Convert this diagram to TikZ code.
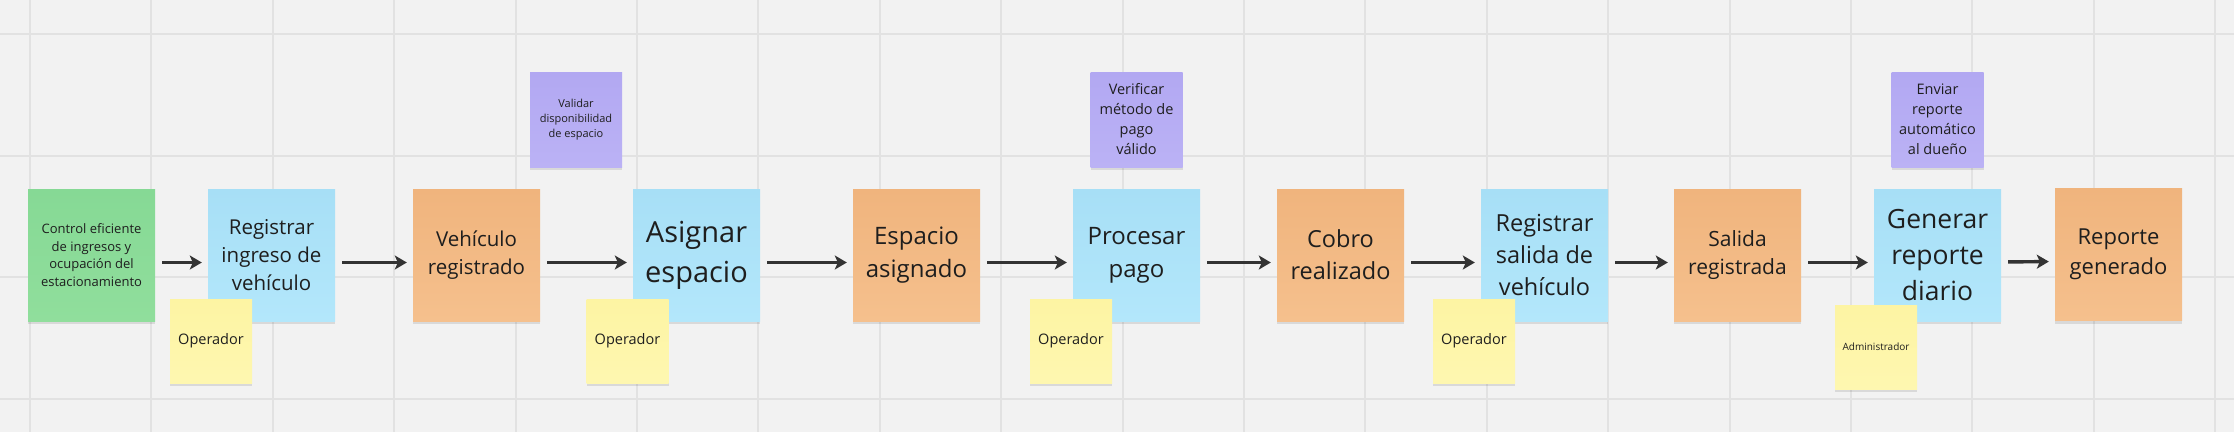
\documentclass[tikz,border=0pt]{standalone}
\usepackage{fontspec}
\setmainfont{Open Sans}
\usetikzlibrary{arrows.meta,positioning,shadows}
\definecolor{board}{HTML}{F2F2F2}
\definecolor{gridline}{HTML}{E2E2E2}
\definecolor{ink}{HTML}{1E1E1E}
\definecolor{arrowink}{HTML}{333333}
\definecolor{greenT}{HTML}{86D995}
\definecolor{greenB}{HTML}{90DE9C}
\definecolor{blueT}{HTML}{A7DFF6}
\definecolor{blueB}{HTML}{B3E7FB}
\definecolor{orangeT}{HTML}{F0B47D}
\definecolor{orangeB}{HTML}{F5C08D}
\definecolor{purpleT}{HTML}{B2A8F2}
\definecolor{purpleB}{HTML}{BBB2F5}
\definecolor{yellowT}{HTML}{FDF4A3}
\definecolor{yellowB}{HTML}{FEF7B0}
\newcommand\fs[2]{\fontsize{#1}{#2}\selectfont}

\begin{document}
\begin{tikzpicture}[x=1pt,y=-1pt,
    note/.style={inner sep=0pt, align=center, text=ink,
      drop shadow={shadow xshift=0pt, shadow yshift=-3pt, opacity=.10, fill=black}},
    goal/.style={note, minimum width=127pt, minimum height=132pt, top color=greenT, bottom color=greenB},
    task/.style={note, minimum width=127pt, minimum height=132pt, top color=blueT, bottom color=blueB},
    event/.style={note, minimum width=127pt, minimum height=132pt, top color=orangeT, bottom color=orangeB},
    rule/.style={note, minimum width=92pt, minimum height=95pt, top color=purpleT, bottom color=purpleB},
    actor/.style={note, minimum width=82pt, minimum height=84pt, top color=yellowT, bottom color=yellowB},
    flow/.style={draw=arrowink, line width=3.4pt, -{Stealth[length=12pt,width=14pt,inset=3pt]}, shorten <=7pt, shorten >=6pt}]

  % board
  \fill[board] (0,0) rectangle (2234,432);
  \useasboundingbox (0,0) rectangle (2234,432);
  \foreach \k in {0,...,18}
    \draw[gridline, line width=2pt] ({30+121.4*\k},0) -- ({30+121.4*\k},432);
  \foreach \yy in {34,155.5,277,398.5}
    \draw[gridline, line width=2pt] (0,\yy) -- (2234,\yy);

  % rules
  \draw node[rule, font=\fs{11}{15}] (r1) at (576,119.5) {Validar\\disponibilidad\\de espacio};
  \draw node[rule, font=\fs{14.5}{20}] (r2) at (1136.5,119.5) {Verificar\\método de\\pago\\válido};
  \draw node[rule, font=\fs{14.5}{20}] (r3) at (1937.5,119.5) {Enviar\\reporte\\automático\\al dueño};

  % process
  \draw node[goal, font=\fs{13}{17.5}] (g1) at (91.5,255) {Control eficiente\\de ingresos y\\ocupación del\\estacionamiento};
  \draw node[task, font=\fs{20.5}{28}] (t1) at (271.5,255) {Registrar\\ingreso de\\vehículo};
  \draw node[event, font=\fs{20.5}{28}] (e1) at (476.5,255) {Vehículo\\registrado};
  \draw node[task, font=\fs{29}{40}] (t2) at (696.5,255) {Asignar\\espacio};
  \draw node[event, font=\fs{24}{33}] (e2) at (916.5,255) {Espacio\\asignado};
  \draw node[task, font=\fs{24}{33}] (t3) at (1136.5,255) {Procesar\\pago};
  \draw node[event, font=\fs{23.5}{32}] (e3) at (1340.5,255) {Cobro\\realizado};
  \draw node[task, font=\fs{23.5}{32}] (t4) at (1544.5,255) {Registrar\\salida de\\vehículo};
  \draw node[event, font=\fs{21}{28.5}] (e4) at (1737.5,255) {Salida\\registrada};
  \draw node[task, font=\fs{26.5}{36}] (t5) at (1937.5,255) {Generar\\reporte\\diario};
  \draw node[event, font=\fs{22}{30}] (e5) at (2118.5,254.5) {Reporte\\generado};

  % actors
  \draw node[actor, font=\fs{14.5}{20}] (a1) at (211,341) {Operador};
  \draw node[actor, font=\fs{14.5}{20}] (a2) at (627.5,341) {Operador};
  \draw node[actor, font=\fs{14.5}{20}] (a3) at (1071,341) {Operador};
  \draw node[actor, font=\fs{14.5}{20}] (a4) at (1474,341) {Operador};
  \draw node[actor, font=\fs{10}{14}] (a5) at (1876,347) {Administrador};

  % flow
  \draw ([yshift=-7.5pt]g1.east) edge[flow] ([yshift=-7.5pt]t1.west);
  \draw ([yshift=-7.5pt]t1.east) edge[flow] ([yshift=-7.5pt]e1.west);
  \draw ([yshift=-7.5pt]e1.east) edge[flow] ([yshift=-7.5pt]t2.west);
  \draw ([yshift=-7.5pt]t2.east) edge[flow] ([yshift=-7.5pt]e2.west);
  \draw ([yshift=-7.5pt]e2.east) edge[flow] ([yshift=-7.5pt]t3.west);
  \draw ([yshift=-7.5pt]t3.east) edge[flow] ([yshift=-7.5pt]e3.west);
  \draw ([yshift=-7.5pt]e3.east) edge[flow] ([yshift=-7.5pt]t4.west);
  \draw ([yshift=-7.5pt]t4.east) edge[flow] ([yshift=-7.5pt]e4.west);
  \draw ([yshift=-7.5pt]e4.east) edge[flow] ([yshift=-7.5pt]t5.west);
  \draw ([yshift=-7pt]t5.east) edge[flow] ([yshift=-7pt]e5.west);
\end{tikzpicture}
\end{document}
